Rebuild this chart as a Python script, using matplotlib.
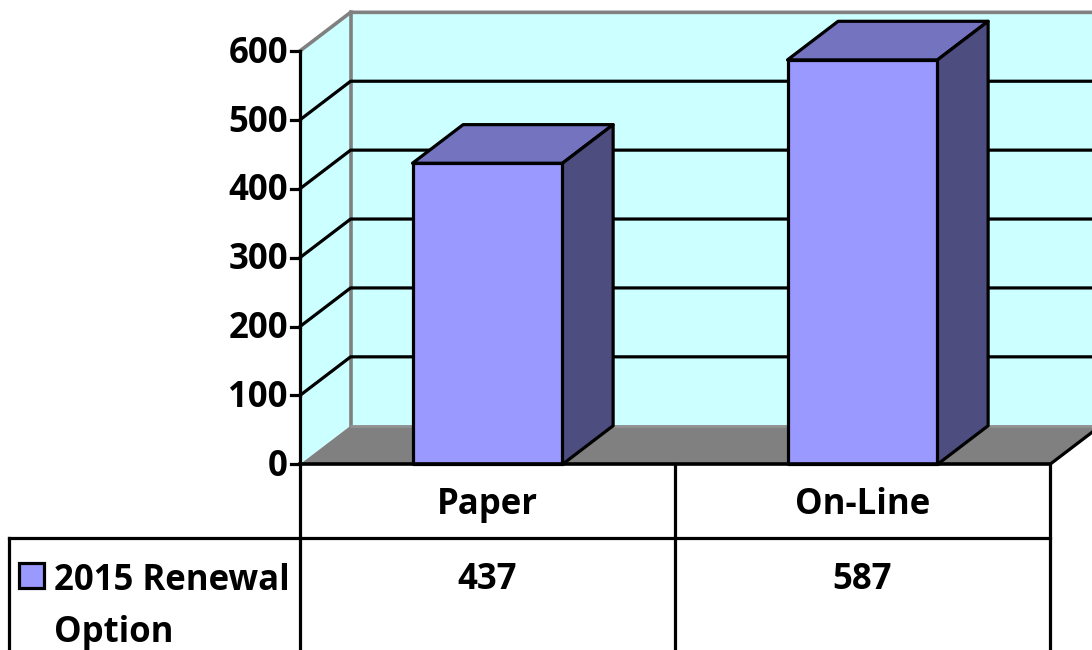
import matplotlib
matplotlib.use("Agg")
import matplotlib.pyplot as plt
from matplotlib.patches import Polygon, Rectangle

plt.rcParams["font.family"] = ["Open Sans", "DejaVu Sans"]

categories = ["Paper", "On-Line"]
values = [437, 587]
series_name = "2015 Renewal\nOption"
yticks = [0, 100, 200, 300, 400, 500, 600]

# one x unit is one category, y is the value axis, the rest of the canvas is used for the table
fig = plt.figure(figsize=(10.92, 6.5), dpi=100)
ax = fig.add_axes([0, 0, 1, 1])
ax.set_xlim(-1.3, 1.612)
ax.set_ylim(-269.5, 673.9)
ax.axis("off")

# 3d look: how far the back wall is shifted
dx = 0.135
dy = 56
bar_w = 0.4
x0, x1 = -0.5, 1.5
ytop = yticks[-1]
wall = "#ccffff"
grey = "#808080"
lw = 2.3
fs = 25

ax.add_patch(Polygon([(x0 + dx, dy), (x1 + dx, dy), (x1 + dx, ytop + dy), (x0 + dx, ytop + dy)],
                     fc=wall, ec="none", zorder=1))
ax.add_patch(Polygon([(x0, 0), (x0 + dx, dy), (x0 + dx, ytop + dy), (x0, ytop)],
                     fc=wall, ec="none", zorder=1))
ax.add_patch(Polygon([(x0, 0), (x1, 0), (x1 + dx, dy), (x0 + dx, dy)],
                     fc=grey, ec="none", zorder=2))

# gridlines on both walls
ax.plot([x0 + dx, x0 + dx], [dy, ytop + dy], color=grey, lw=2.6, zorder=3)
for t in yticks[1:-1]:
    ax.plot([x0, x0 + dx, x1 + dx], [t, t + dy, t + dy], color="black", lw=lw, zorder=3)
ax.plot([x0, x0 + dx, x1 + dx], [ytop, ytop + dy, ytop + dy], color=grey, lw=2.6, zorder=3)
ax.plot([x0 + dx, x1 + dx], [dy, dy], color="#909090", lw=2, zorder=3)
ax.plot([x1, x1 + dx], [0, dy], color="black", lw=lw, zorder=3)

# value axis with ticks
ax.plot([x0, x0], [0, ytop], color="black", lw=lw, zorder=5)
for t in yticks:
    ax.plot([x0 - 0.025, x0], [t, t], color="black", lw=lw, zorder=3)
    ax.text(x0 - 0.032, t - 4, str(t), ha="right", va="center", fontsize=fs, fontweight="bold", zorder=6)

# bars
for i, v in enumerate(values):
    l = i - bar_w / 2
    r = i + bar_w / 2
    ax.add_patch(Rectangle((l, 0), bar_w, v, fc="#9999ff", ec="black", lw=lw, joinstyle="round", zorder=4))
    ax.add_patch(Polygon([(l, v), (r, v), (r + dx, v + dy), (l + dx, v + dy)],
                         fc="#7373bf", ec="black", lw=lw, joinstyle="round", zorder=4))
    ax.add_patch(Polygon([(r, 0), (r + dx, dy), (r + dx, v + dy), (r, v)],
                         fc="#4d4d80", ec="black", lw=lw, joinstyle="round", zorder=4))

# data table under the chart
row1 = -107
tbl_left = -1.277
ax.plot([x0, x0], [0, -270], color="black", lw=lw, zorder=5)
ax.plot([0.5, 0.5], [0, -270], color="black", lw=lw, zorder=5)
ax.plot([x1, x1], [0, -270], color="black", lw=lw, zorder=5)
ax.plot([x0, x1], [0, 0], color="black", lw=2.6, zorder=5)
ax.plot([tbl_left, x1], [row1, row1], color="black", lw=lw, zorder=5)
ax.plot([tbl_left, tbl_left], [row1, -270], color="black", lw=lw, zorder=5)

for i, (c, v) in enumerate(zip(categories, values)):
    ax.text(i, -59, c, ha="center", va="center", fontsize=fs, fontweight="bold", zorder=6)
    ax.text(i, -168, str(v), ha="center", va="center", fontsize=fs, fontweight="bold", zorder=6)

ax.add_patch(Rectangle((-1.25, -180), 0.066, 37, fc="#9999ff", ec="black", lw=lw, zorder=6))
ax.text(-1.156, -143, series_name, ha="left", va="top", fontsize=fs, fontweight="bold",
        linespacing=1.6, zorder=6)

fig.savefig("out.png", dpi=100)
